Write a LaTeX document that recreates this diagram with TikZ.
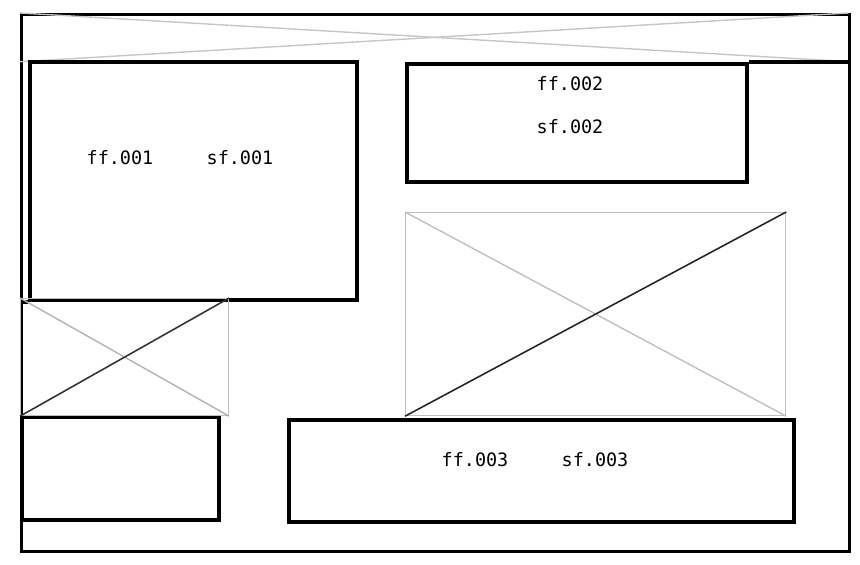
\documentclass[tikz,border=0pt]{standalone}
\usepackage{fontspec}
\setmonofont{DejaVu Sans Mono}
\begin{document}
\begin{tikzpicture}[x=1cm,y=1cm,
  pane/.style={draw,line width=2.3pt,inner sep=0pt,anchor=north west},
  holder/.style={draw=gray!50,line width=0.7pt,inner sep=0pt,anchor=north west},
  lbl/.style={font=\ttfamily\fontsize{10.5}{12}\selectfont}]
\useasboundingbox (0,0) rectangle (17.2,11.3);
% outer frame and header strip
\node[pane,line width=1.9pt,minimum width=16.56cm,minimum height=10.74cm] (frame) at (0.40,11.04) {};
\node[inner sep=0pt,anchor=north west,minimum width=16.56cm,minimum height=0.96cm] (header) at (0.40,11.04) {};
\draw[gray!45,line width=0.8pt] (header.south west) -- (header.north east);
\draw[gray!45,line width=0.8pt] (header.north west) -- (header.south east);
% panes
\node[pane,minimum width=6.54cm,minimum height=4.76cm] (pane1) at (0.56,10.10) {};
\node[pane,minimum width=6.80cm,minimum height=2.36cm] (pane2) at (8.10,10.06) {};
\node[pane,minimum width=3.94cm,minimum height=2.06cm] (pane4) at (0.40,3.00) {};
\node[pane,minimum width=10.10cm,minimum height=2.04cm] (pane5) at (5.74,2.94) {};
\draw[line width=2.3pt] (pane2.north east) -- (frame.east |- pane2.north);
\draw[line width=2.3pt] (frame.west |- pane1.south) -- (pane1.south west);
% image holders
\node[holder,minimum width=4.16cm,minimum height=2.34cm] (img1) at (0.40,5.34) {};
\draw[gray!60,line width=0.8pt] (img1.north west) -- (img1.south east);
\draw[black!80,line width=0.9pt] (img1.south west) -- (img1.north east);
\node[holder,minimum width=7.60cm,minimum height=4.06cm] (img2) at (8.10,7.06) {};
\draw[gray!50,line width=0.8pt] (img2.north west) -- (img2.south east);
\draw[black!85,line width=0.9pt] (img2.south west) -- (img2.north east);
% labels
\node[lbl] (ff1) at (2.40,8.14) {ff.001};
\node[lbl] (sf1) at (4.80,8.14) {sf.001};
\node[lbl] (ff2) at (11.40,9.62) {ff.002};
\node[lbl] (sf2) at (11.40,8.76) {sf.002};
\node[lbl] (ff3) at (9.50,2.10) {ff.003};
\node[lbl] (sf3) at (11.90,2.10) {sf.003};
\end{tikzpicture}
\end{document}
